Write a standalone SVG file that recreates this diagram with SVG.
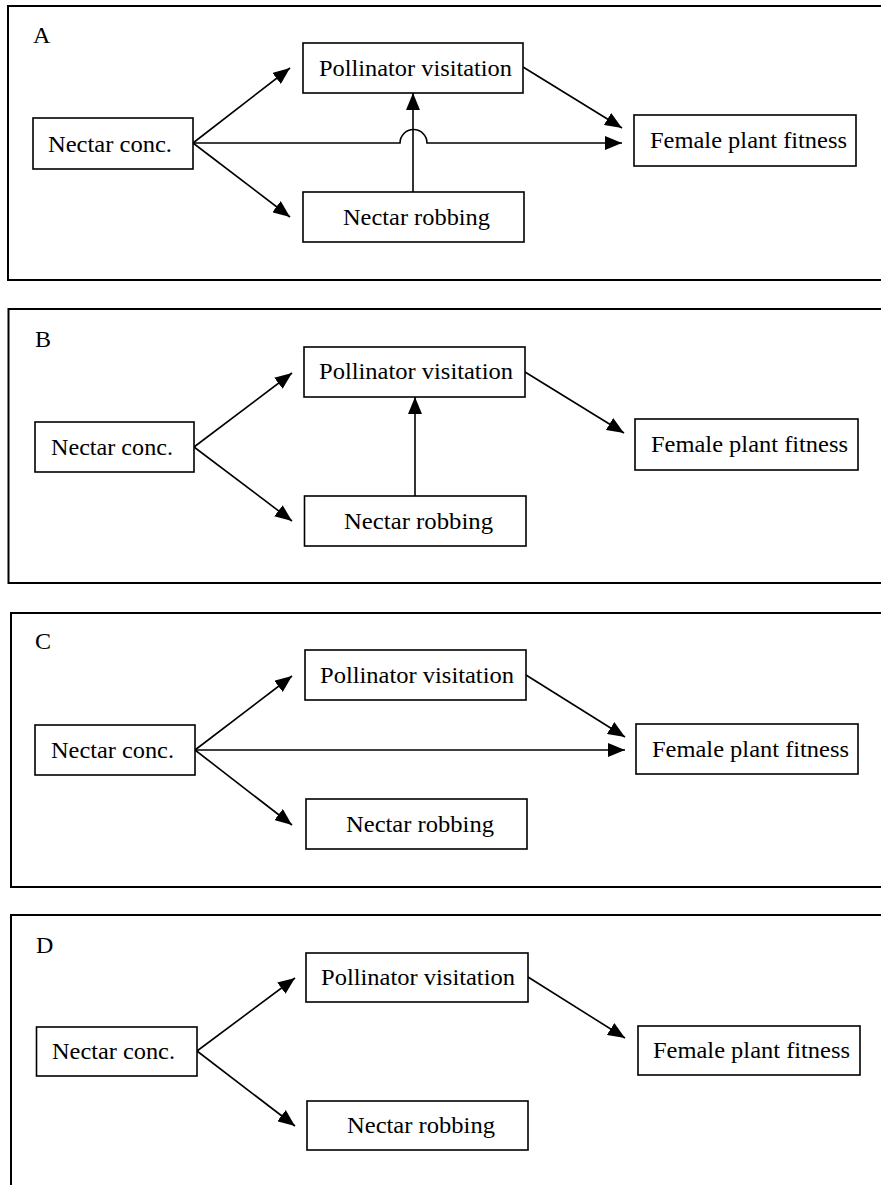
<svg xmlns="http://www.w3.org/2000/svg" width="881" height="1185" viewBox="0 0 881 1185">
<style>
.frame{fill:none;stroke:#000;stroke-width:2}
.box{fill:#fff;stroke:#000;stroke-width:1.6}
.t{font-family:"Liberation Serif","Times New Roman",serif;font-size:24px;fill:#000}
.lbl{font-family:"Liberation Serif","Times New Roman",serif;font-size:24px;fill:#000}
.c{fill:none;stroke:#000;stroke-width:1.6;marker-end:url(#ah)}
</style>
<defs>
<marker id="ah" markerUnits="userSpaceOnUse" markerWidth="17" markerHeight="14" refX="17" refY="7" orient="auto" viewBox="0 0 17 14">
<path d="M0,0 L17,7 L0,14 z" fill="#000"/>
</marker>
</defs>
<rect width="881" height="1185" fill="#fff"/>
<g id="panels">
<rect class="frame" x="8" y="6" width="885" height="274"/>
<rect class="frame" x="8.5" y="309" width="885" height="274"/>
<rect class="frame" x="11" y="613" width="885" height="274"/>
<rect class="frame" x="11" y="915" width="885" height="300"/>
<text class="lbl" x="33" y="43">A</text>
<text class="lbl" x="35" y="347">B</text>
<text class="lbl" x="35" y="649">C</text>
<text class="lbl" x="36" y="953">D</text>
</g>
<g id="connectors">
<path class="c" d="M193,143 L290,68"/>
<path class="c" d="M193,143 L290,217"/>
<path class="c" d="M193,143 H400 A13.5,13.5 0 0 1 427,143 H622"/>
<path class="c" d="M413,192 V93"/>
<path class="c" d="M523,67 L622,128"/>
<path class="c" d="M194,447 L292,373"/>
<path class="c" d="M194,447 L292,521"/>
<path class="c" d="M415,496 V397"/>
<path class="c" d="M525,372 L624,433"/>
<path class="c" d="M195,750 L292,676"/>
<path class="c" d="M195,750 L292,825"/>
<path class="c" d="M195,750 H625"/>
<path class="c" d="M526,675 L625,737"/>
<path class="c" d="M197,1051 L295,978"/>
<path class="c" d="M197,1051 L295,1126"/>
<path class="c" d="M528,977 L625,1038"/>
</g>
<g id="A_nectar"><rect class="box" x="33" y="118" width="160" height="51"/><text class="t" x="48" y="152" textLength="124" lengthAdjust="spacingAndGlyphs">Nectar conc.</text></g>
<g id="A_pollinator"><rect class="box" x="303" y="43" width="220" height="50"/><text class="t" x="319" y="76" textLength="193" lengthAdjust="spacingAndGlyphs">Pollinator visitation</text></g>
<g id="A_robbing"><rect class="box" x="303" y="192" width="221" height="50"/><text class="t" x="343" y="225" textLength="147" lengthAdjust="spacingAndGlyphs">Nectar robbing</text></g>
<g id="A_fitness"><rect class="box" x="634" y="115" width="222" height="51"/><text class="t" x="650" y="148" textLength="197" lengthAdjust="spacingAndGlyphs">Female plant fitness</text></g>
<g id="B_nectar"><rect class="box" x="35" y="422" width="159" height="50"/><text class="t" x="51" y="455" textLength="122" lengthAdjust="spacingAndGlyphs">Nectar conc.</text></g>
<g id="B_pollinator"><rect class="box" x="304" y="347" width="221" height="50"/><text class="t" x="319" y="379" textLength="194" lengthAdjust="spacingAndGlyphs">Pollinator visitation</text></g>
<g id="B_robbing"><rect class="box" x="304.5" y="496" width="221.5" height="50"/><text class="t" x="344" y="529" textLength="149" lengthAdjust="spacingAndGlyphs">Nectar robbing</text></g>
<g id="B_fitness"><rect class="box" x="635" y="419" width="223" height="51"/><text class="t" x="651" y="452" textLength="197" lengthAdjust="spacingAndGlyphs">Female plant fitness</text></g>
<g id="C_nectar"><rect class="box" x="35" y="725" width="160" height="50"/><text class="t" x="51" y="758" textLength="123" lengthAdjust="spacingAndGlyphs">Nectar conc.</text></g>
<g id="C_pollinator"><rect class="box" x="305" y="650" width="221" height="50"/><text class="t" x="320" y="683" textLength="194" lengthAdjust="spacingAndGlyphs">Pollinator visitation</text></g>
<g id="C_robbing"><rect class="box" x="306" y="799" width="221" height="50"/><text class="t" x="346" y="832" textLength="148" lengthAdjust="spacingAndGlyphs">Nectar robbing</text></g>
<g id="C_fitness"><rect class="box" x="636" y="724" width="222" height="50"/><text class="t" x="652" y="757" textLength="197" lengthAdjust="spacingAndGlyphs">Female plant fitness</text></g>
<g id="D_nectar"><rect class="box" x="36.5" y="1027" width="160.5" height="49"/><text class="t" x="52" y="1059" textLength="123" lengthAdjust="spacingAndGlyphs">Nectar conc.</text></g>
<g id="D_pollinator"><rect class="box" x="306" y="953" width="222" height="49"/><text class="t" x="321" y="985" textLength="194" lengthAdjust="spacingAndGlyphs">Pollinator visitation</text></g>
<g id="D_robbing"><rect class="box" x="307" y="1101" width="221" height="49"/><text class="t" x="347" y="1133" textLength="148" lengthAdjust="spacingAndGlyphs">Nectar robbing</text></g>
<g id="D_fitness"><rect class="box" x="638" y="1026" width="222" height="49"/><text class="t" x="653" y="1058" textLength="197" lengthAdjust="spacingAndGlyphs">Female plant fitness</text></g>
</svg>
